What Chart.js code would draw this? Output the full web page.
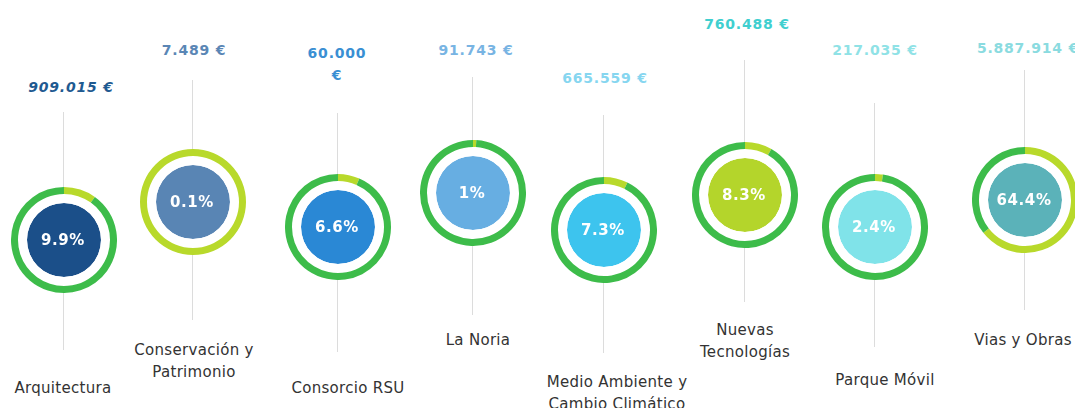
<!DOCTYPE html>
<html>
<head>
<meta charset="utf-8">
<script src="https://cdn.jsdelivr.net/npm/chart.js@4"></script>
<style>
  html, body { margin: 0; padding: 0; background: #fff; }
  #stage { position: relative; width: 1075px; height: 408px; overflow: hidden; background: #fff; }
  .vline { position: absolute; width: 1px; background: #dcdcdc; }
  .ring { position: absolute; }
  .txt { position: absolute; width: 240px; text-align: center; white-space: pre; line-height: 22px; }
  .val { font-family: "DejaVu Sans", sans-serif; font-weight: bold; font-size: 14px; letter-spacing: 0.8px; }
  .lab { font-family: "DejaVu Sans", sans-serif; font-size: 15px; color: #333; letter-spacing: 0.3px; }
  .pct { position: absolute; width: 100px; text-align: center; font-family: "DejaVu Sans", sans-serif; font-weight: bold; font-size: 15px; color: #fff; line-height: 20px; letter-spacing: 0.6px; }
</style>
</head>
<body>
<div id="stage"></div>
<script>
// ---- data ----
const categories = ['Arquitectura', 'Conservación y\nPatrimonio', 'Consorcio RSU', 'La Noria',
  'Medio Ambiente y\nCambio Climático', 'Nuevas\nTecnologías', 'Parque Móvil', 'Vias y Obras'];
const amounts = ['909.015 €', '7.489 €', '60.000\n€', '91.743 €', '665.559 €', '760.488 €', '217.035 €', '5.887.914 €'];
const shares = [9.9, 0.1, 6.6, 1, 7.3, 8.3, 2.4, 64.4];
// lime portion of each outer ring, as drawn in the picture
const ringLime = [9.9, 100, 6.6, 1, 7.3, 8.3, 2.4, 64.4];

// ---- styles ----
const fillColors = ['#1b4f89', '#5985b4', '#2a88d5', '#67aee2', '#3dc4ee', '#b4d52b', '#80e3e9', '#5bb2b9'];
const amountColors = ['#1f5a91', '#5a86b5', '#3a8fd3', '#78b4e3', '#86d6f0', '#3fcfcf', '#8fe2e6', '#8adbe0'];
const ringGreen = '#3dbc4a';
const ringLimeColor = '#b8d92b';

// ---- layout (positions only) ----
const cx = [63, 192, 337, 472, 603, 744, 874, 1024];
const cy = [240, 202, 227, 193, 230, 195, 227, 200];
const amountX = [71, 194, 337, 476, 605, 747, 875, 1028];
const amountY = [87, 50, 53, 50, 78, 24, 50, 48];
const lineTop = [112, 80, 113, 77, 115, 60, 103, 70];
const lineBot = [350, 320, 352, 315, 353, 302, 347, 310];
const labelX = [63, 194, 348, 478, 617, 745, 885, 1023];
const labelY = [388, 350, 388, 340, 382, 330, 380, 340];

const stage = document.getElementById('stage');
const R = 53;

categories.forEach((cat, i) => {
  const line = document.createElement('div');
  line.className = 'vline';
  line.style.left = (cx[i]) + 'px';
  line.style.top = lineTop[i] + 'px';
  line.style.height = (lineBot[i] - lineTop[i]) + 'px';
  stage.appendChild(line);

  const cv = document.createElement('canvas');
  cv.className = 'ring';
  cv.width = 2 * R; cv.height = 2 * R;
  cv.style.width = 2 * R + 'px'; cv.style.height = 2 * R + 'px';
  cv.style.left = (cx[i] - R + 0.5) + 'px';
  cv.style.top = (cy[i] - R) + 'px';
  stage.appendChild(cv);

  new Chart(cv, {
    type: 'doughnut',
    data: {
      labels: ['lime', 'green'],
      datasets: [
        { data: [ringLime[i], 100 - ringLime[i]], backgroundColor: [ringLimeColor, ringGreen], borderWidth: 0, weight: 7 },
        { data: [1], backgroundColor: ['#ffffff'], borderWidth: 0, weight: 9 },
        { data: [1], backgroundColor: [fillColors[i]], borderWidth: 0, weight: 37 }
      ]
    },
    options: {
      responsive: false,
      animation: false,
      devicePixelRatio: 1,
      cutout: 0,
      layout: { padding: 0 },
      events: [],
      plugins: { legend: { display: false }, tooltip: { enabled: false } }
    }
  });

  const pct = document.createElement('div');
  pct.className = 'pct';
  pct.textContent = shares[i] + '%';
  pct.style.left = (cx[i] - 50) + 'px';
  pct.style.top = (cy[i] - 10) + 'px';
  stage.appendChild(pct);

  const val = document.createElement('div');
  val.className = 'txt val';
  val.textContent = amounts[i];
  val.style.color = amountColors[i];
  if (i === 0) val.style.fontStyle = 'italic';
  val.style.left = (amountX[i] - 120) + 'px';
  val.style.top = (amountY[i] - 11) + 'px';
  stage.appendChild(val);

  const lab = document.createElement('div');
  lab.className = 'txt lab';
  lab.textContent = cat;
  lab.style.left = (labelX[i] - 120) + 'px';
  lab.style.top = (labelY[i] - 11) + 'px';
  stage.appendChild(lab);
});
</script>
</body>
</html>
